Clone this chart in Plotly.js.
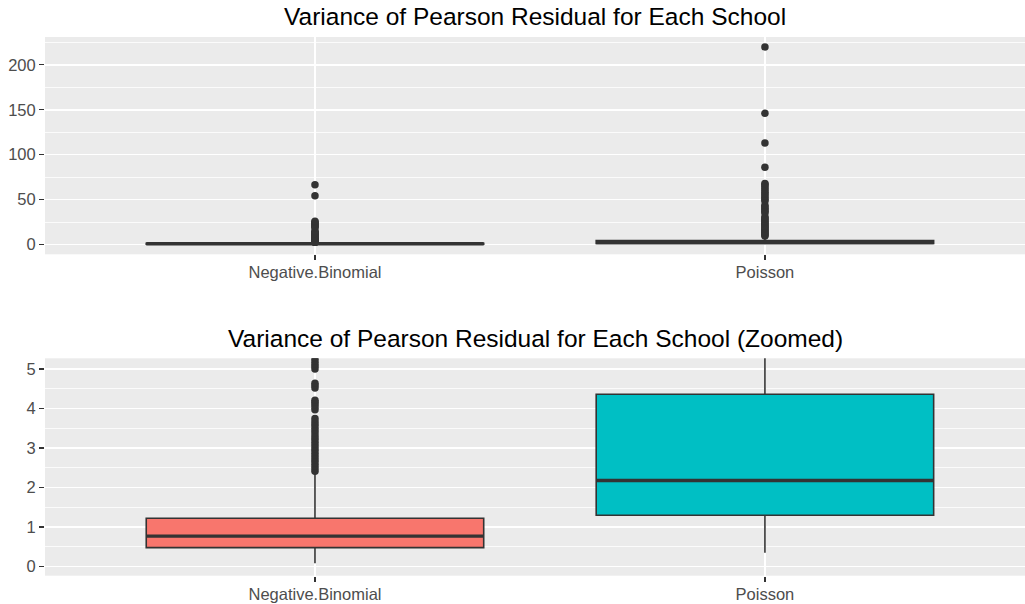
<!DOCTYPE html>
<html>
<head>
<meta charset="utf-8">
<script src="https://cdn.plot.ly/plotly-3.0.1.min.js"></script>
<style>html,body{margin:0;padding:0;background:#fff}#chart{width:1025px;height:604px}</style>
</head>
<body>
<div id="chart"></div>
<script>
// ---- data ----
const categories = ['Negative.Binomial', 'Poisson'];
const boxQ1 = [0.48, 1.30];
const boxMedian = [0.77, 2.18];
const boxQ3 = [1.225, 4.36];
const boxLowerFence = [0.086, 0.35];
const boxUpperFence = [2.37, 8.9];
const fillColors = ['#F8766D', '#00BFC4'];

const nbOutliers = [2.41, 2.48, 2.55, 2.62, 2.69, 2.76, 2.83, 2.90, 2.97, 3.04, 3.11, 3.18, 3.25, 3.32,
  3.39, 3.46, 3.53, 3.60, 3.67, 3.75, 3.97, 4.04, 4.10, 4.16, 4.21, 4.52, 4.58, 4.64,
  5.00, 5.07, 5.13, 5.20, 5.27, 5.6, 6.3, 7.1, 7.8, 8.6, 9.5, 10.4, 11.3, 12.2, 13.1, 14.0, 14.8,
  18.6, 19.8, 21.0, 22.3, 23.5, 24.7, 25.8, 54.2, 66.4];
const poissonOutliers = [9.5, 10.5, 11.8, 13.0, 14.2, 15.5, 16.9, 18.3, 19.6, 21.0, 22.4, 23.8, 25.1,
  26.5, 28.0, 29.4, 30.8, 35.2, 36.8, 38.5, 40.1, 42.0, 43.8, 48.5, 50.2, 52.0, 54.0, 56.1, 58.0,
  60.2, 62.3, 64.5, 66.7, 68.0, 86.0, 113.0, 146.0, 220.0];
const outliers = [nbOutliers, poissonOutliers];

const titleTop = 'Variance of Pearson Residual for Each School';
const titleBottom = 'Variance of Pearson Residual for Each School (Zoomed)';
const topTicks = [0, 50, 100, 150, 200];
const bottomTicks = [0, 1, 2, 3, 4, 5];

const BOX_WIDTH = 0.75;

// ---- traces ----
const traces = [];
const shapes = [];
['', '2'].forEach(function (suffix) {
  categories.forEach(function (cat, i) {
    traces.push({
      type: 'box', x: [cat], q1: [boxQ1[i]], median: [boxMedian[i]], q3: [boxQ3[i]],
      lowerfence: [boxLowerFence[i]], upperfence: [boxUpperFence[i]],
      fillcolor: fillColors[i], line: {color: '#333333', width: 1.6},
      width: BOX_WIDTH, whiskerwidth: 0, boxpoints: false, hoverinfo: 'skip',
      xaxis: 'x' + suffix, yaxis: 'y' + suffix, showlegend: false
    });
    traces.push({
      type: 'scatter', mode: 'markers', x: outliers[i].map(function () { return cat; }), y: outliers[i],
      marker: {color: '#333333', size: 7.5}, hoverinfo: 'skip',
      xaxis: 'x' + suffix, yaxis: 'y' + suffix, showlegend: false
    });
    // thicker median bar, as ggplot draws it
    shapes.push({
      type: 'line', xref: 'x' + suffix, yref: 'y' + suffix,
      x0: i - BOX_WIDTH / 2, x1: i + BOX_WIDTH / 2, y0: boxMedian[i], y1: boxMedian[i],
      line: {color: '#333333', width: 3.4}
    });
  });
});

const font = 'Liberation Sans, Arial, sans-serif';
function xax(anchor) {
  return {
    type: 'category', categoryarray: categories, range: [-0.6, 1.578], domain: [0, 1], anchor: anchor,
    showgrid: true, gridcolor: '#FFFFFF', gridwidth: 1.6, zeroline: false, showline: false,
    ticks: 'outside', ticklen: 5, tickcolor: '#333333', tickwidth: 1.2, ticklabelstandoff: -2,
    tickfont: {family: font, size: 16.5, color: '#4D4D4D'}, fixedrange: true
  };
}
function yax(anchor, domain, range, ticks, minorDt) {
  return {
    domain: domain, range: range, anchor: anchor, tickvals: ticks, ticktext: ticks.map(String),
    showgrid: true, gridcolor: '#FFFFFF', gridwidth: 1.6, zeroline: false, showline: false,
    ticks: 'outside', ticklen: 5, tickcolor: '#333333', tickwidth: 1.2,
    tickfont: {family: font, size: 16.5, color: '#4D4D4D'},
    minor: {dtick: minorDt, tick0: minorDt, showgrid: true, gridcolor: '#FFFFFF', gridwidth: 0.8, ticks: ''},
    fixedrange: true
  };
}

const layout = {
  width: 1025, height: 604,
  margin: {l: 45, r: 0, t: 0, b: 0, autoexpand: false},
  paper_bgcolor: '#FFFFFF', plot_bgcolor: '#EBEBEB',
  showlegend: false, boxmode: 'overlay',
  xaxis: xax('y'),
  yaxis: yax('x', [1 - 254.3 / 604, 1 - 37 / 604], [-10.9, 231], topTicks, 25),
  xaxis2: xax('y2'),
  yaxis2: yax('x2', [1 - 575.7 / 604, 1 - 358.3 / 604], [-0.23, 5.27], bottomTicks, 0.5),
  shapes: shapes,
  annotations: [
    {text: titleTop, xref: 'paper', yref: 'paper', x: 0.5, y: 1 - 16 / 604, xanchor: 'center', yanchor: 'middle',
      showarrow: false, font: {family: font, size: 24.5, color: '#000000'}},
    {text: titleBottom, xref: 'paper', yref: 'paper', x: 0.5, y: 1 - 338 / 604, xanchor: 'center', yanchor: 'middle',
      showarrow: false, font: {family: font, size: 24.5, color: '#000000'}}
  ]
};

Plotly.newPlot('chart', traces, layout, {staticPlot: true, displayModeBar: false});
</script>
</body>
</html>
